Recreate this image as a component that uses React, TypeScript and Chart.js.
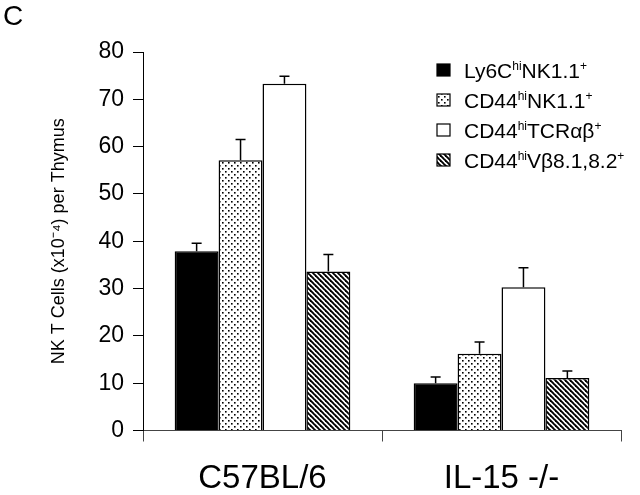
import React, { useEffect, useRef } from "react";
import { Chart, registerables } from "chart.js";

Chart.register(...registerables);

const categories = ["C57BL/6", "IL-15 -/-"];
const seriesLabels = [
  "Ly6C^{hi}NK1.1^{+}",
  "CD44^{hi}NK1.1^{+}",
  "CD44^{hi}TCRαβ^{+}",
  "CD44^{hi}Vβ8.1,8.2^{+}",
];
const ly6cValues = [37.9, 10.0];
const cd44Nk11Values = [57.1, 16.2];
const cd44TcrValues = [73.3, 30.3];
const cd44VbValues = [33.6, 11.1];

const ly6cErr = [1.7, 1.3];
const cd44Nk11Err = [4.4, 2.5];
const cd44TcrErr = [1.6, 4.1];
const cd44VbErr = [3.6, 1.5];

const yTicks = [0, 10, 20, 30, 40, 50, 60, 70, 80];
const yTitle = "NK T Cells (x10⁻⁴) per Thymus";
const panelLabel = "C";

const FONT = "'Liberation Sans', Arial, Helvetica, sans-serif";

function makeDots(): CanvasPattern | string {
  const c = document.createElement("canvas");
  c.width = 6;
  c.height = 6;
  const ctx = c.getContext("2d")!;
  ctx.fillStyle = "#fff";
  ctx.fillRect(0, 0, 6, 6);
  ctx.fillStyle = "#000";
  ctx.fillRect(0, 0, 1.6, 1.6);
  ctx.fillRect(3, 3, 1.6, 1.6);
  return ctx.createPattern(c, "repeat") || "#888";
}

function makeHatch(): CanvasPattern | string {
  const n = 5;
  const c = document.createElement("canvas");
  c.width = n;
  c.height = n;
  const ctx = c.getContext("2d")!;
  ctx.fillStyle = "#fff";
  ctx.fillRect(0, 0, n, n);
  ctx.strokeStyle = "#000";
  ctx.lineWidth = 1.9;
  for (const x0 of [-n, 0, n]) {
    ctx.beginPath();
    ctx.moveTo(x0 - 1, -1);
    ctx.lineTo(x0 + n + 1, n + 1);
    ctx.stroke();
  }
  return ctx.createPattern(c, "repeat") || "#444";
}

function parseMarkup(s: string): { text: string; sup: boolean }[] {
  const out: { text: string; sup: boolean }[] = [];
  const re = /\^\{([^}]*)\}/g;
  let last = 0;
  let m: RegExpExecArray | null;
  while ((m = re.exec(s))) {
    if (m.index > last) out.push({ text: s.slice(last, m.index), sup: false });
    out.push({ text: m[1], sup: true });
    last = m.index + m[0].length;
  }
  if (last < s.length) out.push({ text: s.slice(last), sup: false });
  return out;
}

const errorBarPlugin = {
  id: "errorBars",
  afterDatasetsDraw(chart: any) {
    const ctx = chart.ctx;
    const yScale = chart.scales.y;
    ctx.save();
    ctx.strokeStyle = "#000";
    ctx.lineWidth = 1.5;
    chart.data.datasets.forEach((ds: any, di: number) => {
      const meta = chart.getDatasetMeta(di);
      meta.data.forEach((el: any, i: number) => {
        const top = yScale.getPixelForValue(ds.data[i] + ds.errors[i]);
        ctx.beginPath();
        ctx.moveTo(el.x, el.y);
        ctx.lineTo(el.x, top);
        ctx.moveTo(el.x - 5, top);
        ctx.lineTo(el.x + 5, top);
        ctx.stroke();
      });
    });
    ctx.restore();
  },
};

const legendPlugin = {
  id: "customLegend",
  afterDraw(chart: any) {
    const ctx = chart.ctx;
    const area = chart.chartArea;
    const boxX = area.right - 184;
    const rowY0 = area.top + 18;
    const rowGap = 30;
    ctx.save();
    chart.data.datasets.forEach((ds: any, i: number) => {
      const cy = rowY0 + i * rowGap;
      ctx.fillStyle = ds.backgroundColor;
      ctx.fillRect(boxX, cy - 6, 13, 12);
      ctx.strokeStyle = "#000";
      ctx.lineWidth = 1.2;
      ctx.strokeRect(boxX, cy - 6, 13, 12);
      let x = boxX + 27;
      const baseline = cy + 7.5;
      ctx.fillStyle = "#000";
      ctx.textBaseline = "alphabetic";
      ctx.textAlign = "left";
      for (const seg of parseMarkup(ds.label)) {
        ctx.font = seg.sup ? `12px ${FONT}` : `21px ${FONT}`;
        ctx.fillText(seg.text, x, seg.sup ? baseline - 8 : baseline);
        x += ctx.measureText(seg.text).width;
      }
    });
    ctx.restore();
  },
};

export default function App() {
  const canvasRef = useRef<HTMLCanvasElement | null>(null);

  useEffect(() => {
    if (!canvasRef.current) return;
    const dots = makeDots();
    const hatch = makeHatch();
    const values = [ly6cValues, cd44Nk11Values, cd44TcrValues, cd44VbValues];
    const errs = [ly6cErr, cd44Nk11Err, cd44TcrErr, cd44VbErr];
    const fills = ["#000", dots, "#fff", hatch];
    const chart = new Chart(canvasRef.current, {
      type: "bar",
      data: {
        labels: categories,
        datasets: values.map((v, i) => ({
          label: seriesLabels[i],
          data: v,
          errors: errs[i],
          backgroundColor: fills[i] as any,
          borderColor: "#000",
          borderWidth: 1.5,
          categoryPercentage: 0.735,
          barPercentage: 1.0,
        })) as any,
      },
      options: {
        responsive: false,
        animation: false,
        layout: { padding: { top: 52, right: 19, left: 0, bottom: 0 } },
        plugins: {
          legend: { display: false },
          tooltip: { enabled: false },
        },
        scales: {
          x: {
            offset: true,
            grid: {
              display: true,
              offset: true,
              drawOnChartArea: false,
              drawTicks: true,
              tickLength: 11,
              color: "#444",
            },
            border: { display: true, color: "#444", width: 1 },
            ticks: {
              color: "#000",
              font: { family: FONT, size: 33 },
              padding: 18,
            },
            afterFit: (scale: any) => {
              scale.height = 64.5;
            },
          },
          y: {
            min: 0,
            max: 80,
            afterBuildTicks: (scale: any) => {
              scale.ticks = yTicks.map((v) => ({ value: v }));
            },
            grid: {
              display: true,
              drawOnChartArea: false,
              drawTicks: true,
              tickLength: 10,
              color: "#000",
            },
            border: { display: true, color: "#000", width: 1 },
            ticks: {
              color: "#000",
              font: { family: FONT, size: 23 },
              padding: 9,
            },
            title: {
              display: true,
              text: yTitle,
              color: "#000",
              font: { family: FONT, size: 18 },
              padding: { top: 48, bottom: 0 },
            },
            afterFit: (scale: any) => {
              scale.width = 143;
            },
          },
        },
      },
      plugins: [errorBarPlugin, legendPlugin],
    });
    return () => chart.destroy();
  }, []);

  return (
    <div style={{ position: "fixed", left: 0, top: 0, width: 640, height: 495, background: "#fff" }}>
      <div
        style={{
          position: "absolute",
          left: 3,
          top: 0,
          fontFamily: FONT,
          fontSize: 28,
          lineHeight: "32px",
          color: "#000",
        }}
      >
        {panelLabel}
      </div>
      <canvas ref={canvasRef} width={640} height={495} style={{ display: "block" }} />
    </div>
  );
}
